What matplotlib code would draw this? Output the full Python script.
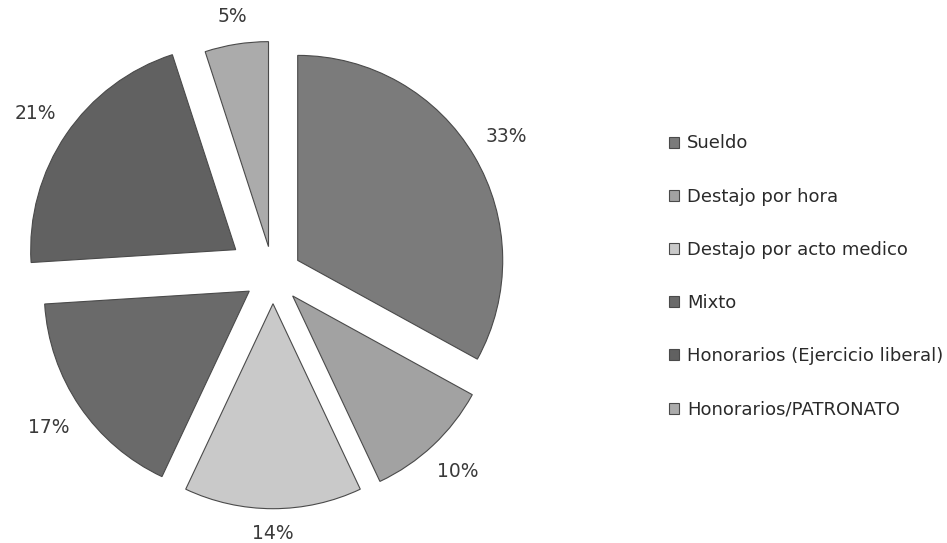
import numpy as np
import matplotlib
matplotlib.use("Agg")
import matplotlib.pyplot as plt

categories = ["Sueldo", "Destajo por hora", "Destajo por acto medico", "Mixto",
              "Honorarios (Ejercicio liberal)", "Honorarios/PATRONATO"]
values = [33, 10, 14, 17, 21, 5]
colors = ["#7b7b7b", "#a2a2a2", "#c9c9c9", "#6a6a6a", "#616161", "#ababab"]
explode = [0.14, 0.14, 0.14, 0.14, 0.22, 0.14]

plt.rcParams['font.family'] = ['DejaVu Sans']
fig = plt.figure(figsize=(9.47, 5.43), dpi=100)
ax = fig.add_axes([13/947, 8/543, 520/947, 520/543])

wedges, texts, autotexts = ax.pie(values, colors=colors, explode=explode, startangle=90,
                                  counterclock=False,
                                  autopct=lambda p: f"{p:.0f}%", pctdistance=1.15,
                                  wedgeprops=dict(edgecolor="#4a4a4a", linewidth=0.8),
                                  textprops=dict(fontsize=13.5, color="#3a3a3a"))
# place labels just outside the arc (outside-end style)
for w, t in zip(wedges, autotexts):
    th = np.deg2rad((w.theta1 + w.theta2) / 2)
    d = w.r * (1.075 + 0.10 * abs(np.cos(th)) + 0.045 * abs(np.sin(th)))
    t.set_position((w.center[0] + d * np.cos(th), w.center[1] + d * np.sin(th)))
    t.set_ha('center'); t.set_va('center')

a = 260/205
ax.set_xlim(-a, a)
ax.set_ylim(-a, a)
ax.set_aspect('equal')
ax.axis('off')

leg = fig.legend(wedges, categories, loc='center left',
                 bbox_to_anchor=(669/947, (543-276.5)/543),
                 frameon=False, fontsize=13, handlelength=0.55, handleheight=0.55,
                 handletextpad=0.45, labelspacing=1.95, borderpad=0, borderaxespad=0,
                 labelcolor="#2a2a2a")
fig.savefig("out.png", dpi=100, facecolor="white")
